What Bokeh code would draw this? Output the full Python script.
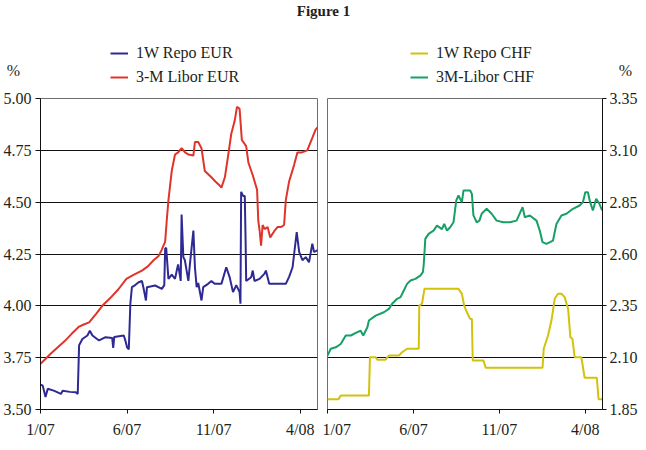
from bokeh.plotting import figure
from bokeh.models import (Legend, LegendItem, Label, FixedTicker,
                          PrintfTickFormatter, Range1d)
from bokeh.layouts import row, column
from bokeh.embed import file_html
from bokeh.resources import INLINE

# ---------------- data (x = months since 1 Jan 2007) ----------------
x_ticks = [0, 5, 10, 15]
x_tick_labels = ["1/07", "6/07", "11/07", "4/08"]

eur_y_ticks = [3.50, 3.75, 4.00, 4.25, 4.50, 4.75, 5.00]
chf_y_ticks = [1.85, 2.10, 2.35, 2.60, 2.85, 3.10, 3.35]

libor_eur_t = [0, 0.3, 0.6, 1.0, 1.4, 1.8, 2.23, 2.5, 2.81, 3.2, 3.57, 4.0, 4.5, 4.96,
               5.4, 5.86, 6.2, 6.53, 6.82, 7.0, 7.2, 7.3, 7.39, 7.58, 7.77,
               7.95, 8.15, 8.35, 8.54, 8.83, 8.92, 9.11, 9.3, 9.49, 9.87, 10.1, 10.35,
               10.45, 10.65, 10.83, 11.02, 11.21, 11.35, 11.5, 11.63, 11.88, 12.01,
               12.26, 12.51, 12.58, 12.66, 12.74, 12.83, 12.95, 13.12, 13.27, 13.5,
               13.69, 13.9, 14.07, 14.17, 14.36, 14.65, 14.84, 15.1, 15.41, 15.7,
               15.89, 16.0]
libor_eur_v = [3.72, 3.745, 3.77, 3.80, 3.83, 3.865, 3.90, 3.91, 3.92, 3.96, 4.00, 4.035,
               4.08, 4.13, 4.15, 4.17, 4.19, 4.22, 4.24, 4.27, 4.31, 4.42, 4.51, 4.65,
               4.73, 4.74, 4.76, 4.74, 4.73, 4.725, 4.79, 4.79, 4.76, 4.65, 4.62, 4.60,
               4.58, 4.57, 4.62, 4.72, 4.83, 4.89, 4.96, 4.95, 4.80, 4.77, 4.69, 4.63,
               4.56, 4.41, 4.36, 4.29, 4.39, 4.37, 4.38, 4.33, 4.36, 4.38, 4.38, 4.39,
               4.51, 4.60, 4.68, 4.74, 4.74, 4.75, 4.81, 4.85, 4.86]

repo_eur_t = [0, 0.13, 0.29, 0.42, 0.8, 1.18, 1.28, 1.7, 2.04, 2.15, 2.23, 2.42, 2.71,
              2.85, 3.0, 3.38, 3.76, 4.14, 4.2, 4.26, 4.81, 4.91, 5.0, 5.1, 5.19,
              5.28, 5.47, 5.67, 5.86, 5.96, 6.09, 6.15, 6.62, 7.01, 7.15, 7.2, 7.26,
              7.39, 7.58, 7.77, 7.87, 7.95, 8.1, 8.15, 8.25, 8.34, 8.44, 8.54, 8.63,
              8.83, 8.92, 9.02, 9.11, 9.3, 9.4, 9.68, 9.87, 10.06, 10.45, 10.73,
              10.92, 11.12, 11.31, 11.5, 11.55, 11.59, 11.7, 11.8, 11.85, 11.88,
              12.17, 12.26, 12.36, 12.65, 12.93, 13.02, 13.21, 13.5, 13.88, 14.17,
              14.36, 14.56, 14.65, 14.8, 14.94, 15.13, 15.32, 15.51, 15.7, 15.8,
              15.95, 16.0]
repo_eur_v = [3.62, 3.615, 3.56, 3.60, 3.59, 3.575, 3.59, 3.585, 3.583, 3.575, 3.81,
              3.84, 3.857, 3.88, 3.857, 3.833, 3.849, 3.845, 3.797, 3.85, 3.857, 3.83,
              3.80, 3.79, 4.01, 4.09, 4.10, 4.114, 4.12, 4.082, 4.026, 4.09, 4.098,
              4.082, 4.10, 4.275, 4.28, 4.13, 4.15, 4.13, 4.17, 4.20, 4.12, 4.44,
              4.235, 4.22, 4.17, 4.12, 4.20, 4.363, 4.186, 4.09, 4.11, 4.026, 4.09,
              4.106, 4.12, 4.106, 4.106, 4.186, 4.14, 4.066, 4.10, 4.066, 4.01, 4.55,
              4.53, 4.53, 4.30, 4.12, 4.138, 4.17, 4.12, 4.13, 4.154, 4.17, 4.106,
              4.106, 4.106, 4.106, 4.14, 4.186, 4.25, 4.355, 4.26, 4.22, 4.235, 4.21,
              4.30, 4.26, 4.265, 4.27]

libor_chf_t = [0, 0.19, 0.48, 0.77, 1.06, 1.35, 1.74, 1.93, 2.08, 2.32, 2.41, 2.8,
               3.28, 3.57, 3.76, 4.05, 4.25, 4.44, 4.63, 4.83, 5.11, 5.4, 5.55, 5.6,
               5.69, 5.88, 6.17, 6.37, 6.66, 6.79, 6.95, 7.14, 7.33, 7.49, 7.62, 7.82,
               7.91, 8.3, 8.4, 8.49, 8.68, 8.84, 8.97, 9.26, 9.55, 9.84, 10.23, 10.61,
               11.0, 11.35, 11.48, 11.77, 12.16, 12.35, 12.51, 12.74, 13.12, 13.32,
               13.61, 13.9, 14.28, 14.67, 14.86, 15.0, 15.15, 15.28, 15.44, 15.63,
               15.82, 15.98]
libor_chf_v = [2.11, 2.143, 2.15, 2.166, 2.207, 2.207, 2.223, 2.23, 2.207, 2.247, 2.279,
               2.303, 2.319, 2.335, 2.36, 2.384, 2.392, 2.424, 2.456, 2.472, 2.48, 2.496,
               2.513, 2.55, 2.673, 2.697, 2.713, 2.737, 2.72, 2.745, 2.713, 2.729, 2.753,
               2.858, 2.882, 2.85, 2.906, 2.906, 2.89, 2.786, 2.753, 2.761, 2.794, 2.818,
               2.794, 2.761, 2.753, 2.753, 2.761, 2.826, 2.777, 2.786, 2.761, 2.713, 2.657,
               2.649, 2.665, 2.745, 2.786, 2.794, 2.818, 2.834, 2.85, 2.898, 2.898, 2.85,
               2.81, 2.866, 2.842, 2.81]

repo_chf_t = [0, 0.64, 0.77, 2.41, 2.47, 2.8, 2.9, 3.37, 3.57, 4.15, 4.34, 4.63,
              5.31, 5.34, 5.5, 5.64, 7.62, 7.82, 7.95, 8.11, 8.3, 8.4, 8.45, 9.07,
              9.21, 12.51, 12.58, 12.83, 13.03, 13.22, 13.41, 13.61, 13.8, 14.0,
              14.13, 14.25, 14.38, 14.77, 14.96, 15.67, 15.77, 15.98]
repo_chf_v = [1.90, 1.90, 1.917, 1.917, 2.102, 2.102, 2.09, 2.09, 2.11, 2.11, 2.126, 2.143,
              2.143, 2.351, 2.36, 2.432, 2.432, 2.408, 2.351, 2.319, 2.287, 2.287, 2.086,
              2.086, 2.051, 2.051, 2.143, 2.207, 2.279, 2.384, 2.408, 2.408, 2.392, 2.335,
              2.199, 2.191, 2.102, 2.102, 2.003, 2.003, 1.90, 1.90]

series_labels = ["1W Repo EUR", "3-M Libor EUR", "1W Repo CHF", "3M-Libor CHF"]

# ---------------- style ----------------
FONT = "Liberation Serif"
TXT = "#231f20"
BLUE = "#2f2a93"
RED = "#e0342a"
YELLOW = "#d2c20c"
GREEN = "#16a065"


def style(p, yticks):
    p.xaxis.ticker = FixedTicker(ticks=x_ticks)
    p.xaxis.major_label_overrides = {t: l for t, l in zip(x_ticks, x_tick_labels)}
    p.yaxis.ticker = FixedTicker(ticks=yticks)
    p.yaxis.formatter = PrintfTickFormatter(format="%.2f")
    for ax in p.xaxis + p.yaxis:
        ax.major_label_text_font = FONT
        ax.major_label_text_font_size = "16px"
        ax.major_label_text_color = TXT
        ax.axis_line_color = "#111111"
        ax.major_tick_line_color = "#111111"
        ax.minor_tick_line_color = None
        ax.major_tick_in = 0
    p.xaxis.major_tick_out = 4
    p.xaxis.major_label_standoff = 7
    p.yaxis.major_tick_out = 5
    p.xgrid.grid_line_color = None
    p.ygrid.ticker = FixedTicker(ticks=yticks)
    p.ygrid.grid_line_color = "#111111"
    p.ygrid.grid_line_width = 1
    p.outline_line_color = "#6e6e6e"
    p.background_fill_color = "white"
    p.border_fill_color = "white"


# ---------------- header (title, legends, % units) ----------------
# Its ranges lie below all series values, so the proxy lines drawn here are
# fully clipped and only serve as legend keys.
hdr = figure(width=646, height=88, output_backend="svg", toolbar_location=None,
             x_range=Range1d(0, 16), y_range=Range1d(0, 1),
             x_axis_type=None, y_axis_type=None, min_border=0)
hdr.grid.grid_line_color = None
hdr.outline_line_color = None
hdr.background_fill_color = "white"
hdr.border_fill_color = "white"

proxy = [
    hdr.line(repo_eur_t, repo_eur_v, line_color=BLUE, line_width=2),
    hdr.line(libor_eur_t, libor_eur_v, line_color=RED, line_width=2),
    hdr.line(repo_chf_t, repo_chf_v, line_color=YELLOW, line_width=2),
    hdr.line(libor_chf_t, libor_chf_v, line_color=GREEN, line_width=2),
]


def make_legend(items, x):
    return Legend(items=items, location=(x, 1), orientation="vertical",
                  label_text_font=FONT, label_text_font_size="16px",
                  label_text_color=TXT, glyph_width=18, glyph_height=20,
                  label_height=20, label_standoff=8, spacing=4, padding=0,
                  margin=0, border_line_alpha=0, background_fill_alpha=0)


hdr.add_layout(make_legend([LegendItem(label=series_labels[0], renderers=[proxy[0]]),
                            LegendItem(label=series_labels[1], renderers=[proxy[1]])], 110),
               "center")
hdr.add_layout(make_legend([LegendItem(label=series_labels[2], renderers=[proxy[2]]),
                            LegendItem(label=series_labels[3], renderers=[proxy[3]])], 410),
               "center")
hdr.add_layout(Label(x=323, y=78, x_units="screen", y_units="screen", text="Figure 1",
                     text_font=FONT, text_font_size="15px", text_font_style="bold",
                     text_color=TXT, text_align="center", text_baseline="middle"))
for xx in (13, 625):
    hdr.add_layout(Label(x=xx, y=18, x_units="screen", y_units="screen", text="%",
                         text_font=FONT, text_font_size="16px", text_color=TXT,
                         text_align="center", text_baseline="middle"))

# ---------------- left panel (EUR) ----------------
p1 = figure(width=322, height=362, output_backend="svg", toolbar_location=None,
            x_range=Range1d(0, 16), y_range=Range1d(3.5, 5.0),
            min_border_left=37, min_border_right=5, min_border_top=10,
            min_border_bottom=41)
style(p1, eur_y_ticks)
p1.yaxis.major_label_standoff = 4
p1.line(repo_eur_t, repo_eur_v, line_color=BLUE, line_width=2)
p1.line(libor_eur_t, libor_eur_v, line_color=RED, line_width=2)

# ---------------- right panel (CHF) ----------------
p2 = figure(width=324, height=362, output_backend="svg", toolbar_location=None,
            x_range=Range1d(0, 16), y_range=Range1d(1.85, 3.35),
            y_axis_location="right",
            min_border_left=5, min_border_right=44, min_border_top=10,
            min_border_bottom=41)
style(p2, chf_y_ticks)
p2.yaxis.major_tick_out = 4
p2.yaxis.major_label_standoff = 3
p2.line(repo_chf_t, repo_chf_v, line_color=YELLOW, line_width=2)
p2.line(libor_chf_t, libor_chf_v, line_color=GREEN, line_width=2)

layout = column(hdr, row(p1, p2, spacing=0), spacing=0)
open("out.html", "w").write(file_html(layout, INLINE))
